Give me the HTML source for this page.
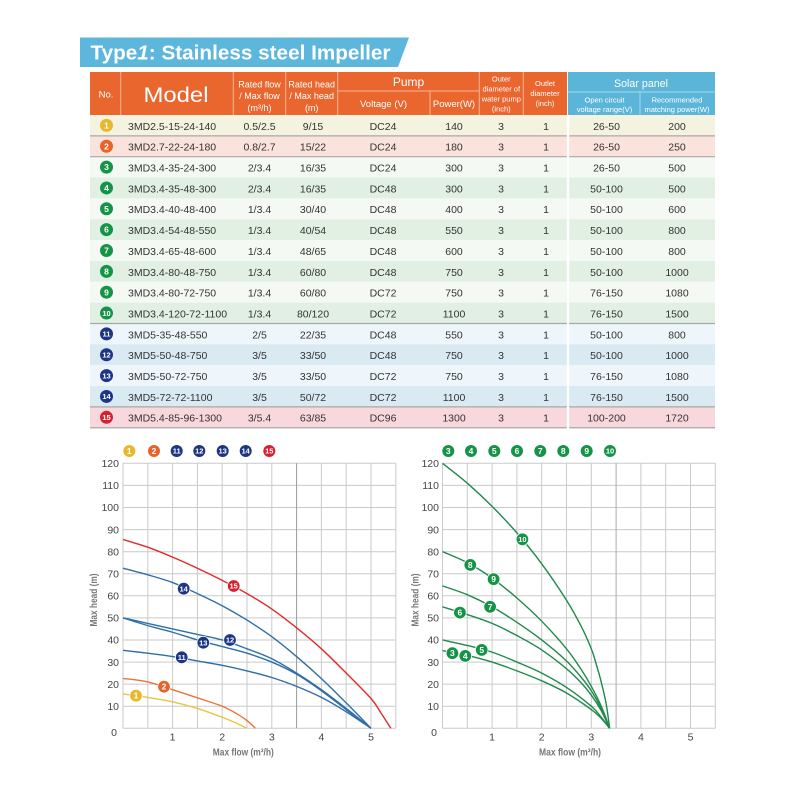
<!DOCTYPE html>
<html><head><meta charset="utf-8"><style>
html,body{margin:0;padding:0;background:#fff;}
svg{display:block;font-family:"Liberation Sans",Arial,sans-serif;}
.h{fill:#fff;text-anchor:middle;}
.d{fill:#333;font-size:10.5px;text-anchor:middle;}
.m{fill:#333;font-size:10.5px;}
.bt{fill:#fff;font-size:8.5px;font-weight:bold;text-anchor:middle;}
.bt2{fill:#fff;font-size:7.5px;font-weight:bold;text-anchor:middle;}
.yl{fill:#444;font-size:10.5px;text-anchor:end;}
.xl{fill:#444;font-size:10.5px;text-anchor:middle;}
.at{fill:#777;font-size:10px;font-weight:bold;text-anchor:middle;}
.g{stroke:#cacaca;stroke-width:1;}
.c{fill:none;stroke-width:1.4;vector-effect:non-scaling-stroke;stroke-linejoin:round;}
</style></head><body>
<svg width="800" height="800" viewBox="0 0 800 800" xmlns="http://www.w3.org/2000/svg">
<!-- Title -->
<polygon points="80,37.5 409,37.5 398,67 80,67" fill="#5db6dc"/>
<text x="90.5" y="59.5" font-size="20" font-weight="bold" fill="#fff" textLength="300" lengthAdjust="spacingAndGlyphs">Type<tspan font-style="italic">1</tspan>: Stainless steel Impeller</text>

<!-- Header -->
<rect x="90" y="72" width="477" height="43" fill="#e9662f"/>
<rect x="568" y="72" width="147" height="43" fill="#5bb5d9"/>
<g stroke="#f5b597" stroke-width="1">
<line x1="120.7" y1="72" x2="120.7" y2="115"/>
<line x1="233.3" y1="72" x2="233.3" y2="115"/>
<line x1="285.7" y1="72" x2="285.7" y2="115"/>
<line x1="337.7" y1="72" x2="337.7" y2="115"/>
<line x1="430" y1="91" x2="430" y2="115"/>
<line x1="479.3" y1="72" x2="479.3" y2="115"/>
<line x1="523.3" y1="72" x2="523.3" y2="115"/>
<line x1="337.7" y1="91" x2="479.3" y2="91"/>
</g>
<g stroke="#a9d8ec" stroke-width="1">
<line x1="568" y1="92" x2="715" y2="92"/>
<line x1="640" y1="92" x2="640" y2="115"/>
</g>
<text class="h" x="106" y="97.5" font-size="9.5">No.</text>
<text class="h" x="176" y="102" font-size="21" textLength="65" lengthAdjust="spacingAndGlyphs">Model</text>
<text class="h" x="259.5" y="87.5" font-size="9">Rated flow</text>
<text class="h" x="259.5" y="99" font-size="9">/ Max flow</text>
<text class="h" x="259.5" y="111" font-size="9">(m³/h)</text>
<text class="h" x="311.7" y="87.5" font-size="9">Rated head</text>
<text class="h" x="311.7" y="99" font-size="9">/ Max head</text>
<text class="h" x="311.7" y="111" font-size="9">(m)</text>
<text class="h" x="408.5" y="86" font-size="12">Pump</text>
<text class="h" x="383.5" y="107" font-size="9.5">Voltage (V)</text>
<text class="h" x="454" y="107" font-size="9.5">Power(W)</text>
<text class="h" x="501.3" y="81.5" font-size="7.5">Outer</text>
<text class="h" x="501.3" y="91.5" font-size="7.5">diameter of</text>
<text class="h" x="501.3" y="101.5" font-size="7.5">water pump</text>
<text class="h" x="501.3" y="111.5" font-size="7.5">(inch)</text>
<text class="h" x="545" y="86" font-size="7.5">Outlet</text>
<text class="h" x="545" y="96" font-size="7.5">diameter</text>
<text class="h" x="545" y="106" font-size="7.5">(inch)</text>
<text class="h" x="641" y="87" font-size="11" textLength="54" lengthAdjust="spacingAndGlyphs">Solar panel</text>
<text class="h" x="604.5" y="102.5" font-size="7.5">Open circuit</text>
<text class="h" x="604.5" y="112" font-size="7.5">voltage range(V)</text>
<text class="h" x="677" y="102.5" font-size="7.5">Recommended</text>
<text class="h" x="677" y="112" font-size="7.5">matching power(W)</text>

<!-- Row backgrounds -->
<g>
<rect x="90" y="115" width="625" height="20.9" fill="#f4f3df"/>
<rect x="90" y="135.85" width="625" height="20.9" fill="#fbe3dd"/>
<rect x="90" y="156.7" width="625" height="20.9" fill="#f4f9f4"/>
<rect x="90" y="177.55" width="625" height="20.9" fill="#e2f0e4"/>
<rect x="90" y="198.4" width="625" height="20.9" fill="#f4f9f4"/>
<rect x="90" y="219.25" width="625" height="20.9" fill="#e2f0e4"/>
<rect x="90" y="240.1" width="625" height="20.9" fill="#f4f9f4"/>
<rect x="90" y="260.95" width="625" height="20.9" fill="#e2f0e4"/>
<rect x="90" y="281.8" width="625" height="20.9" fill="#f4f9f4"/>
<rect x="90" y="302.65" width="625" height="20.9" fill="#e2f0e4"/>
<rect x="90" y="323.5" width="625" height="20.9" fill="#eef6fb"/>
<rect x="90" y="344.35" width="625" height="20.9" fill="#d9eaf3"/>
<rect x="90" y="365.2" width="625" height="20.9" fill="#eef6fb"/>
<rect x="90" y="386.05" width="625" height="20.9" fill="#d9eaf3"/>
<rect x="90" y="406.9" width="625" height="20.85" fill="#f8d8dc"/>
</g>
<rect x="566.8" y="115" width="2.4" height="313" fill="#fff"/>
<g stroke="#a8a8a8" stroke-width="1.2">
<line x1="90" y1="135.85" x2="566.8" y2="135.85"/><line x1="569.2" y1="135.85" x2="715" y2="135.85"/>
<line x1="90" y1="156.7" x2="566.8" y2="156.7"/><line x1="569.2" y1="156.7" x2="715" y2="156.7"/>
<line x1="90" y1="323.5" x2="566.8" y2="323.5"/><line x1="569.2" y1="323.5" x2="715" y2="323.5"/>
<line x1="90" y1="406.9" x2="566.8" y2="406.9"/><line x1="569.2" y1="406.9" x2="715" y2="406.9"/>
<line x1="90" y1="427.75" x2="566.8" y2="427.75"/><line x1="569.2" y1="427.75" x2="715" y2="427.75"/>
</g>

<!-- Badges -->
<g>
<circle cx="106.5" cy="125.4" r="6.5" fill="#e8b82a"/><text class="bt" x="106.5" y="128.5">1</text>
<circle cx="106.5" cy="146.25" r="6.5" fill="#e8622a"/><text class="bt" x="106.5" y="149.3">2</text>
<circle cx="106.5" cy="167.1" r="6.5" fill="#159447"/><text class="bt" x="106.5" y="170.2">3</text>
<circle cx="106.5" cy="187.95" r="6.5" fill="#159447"/><text class="bt" x="106.5" y="191">4</text>
<circle cx="106.5" cy="208.8" r="6.5" fill="#159447"/><text class="bt" x="106.5" y="211.9">5</text>
<circle cx="106.5" cy="229.65" r="6.5" fill="#159447"/><text class="bt" x="106.5" y="232.7">6</text>
<circle cx="106.5" cy="250.5" r="6.5" fill="#159447"/><text class="bt" x="106.5" y="253.6">7</text>
<circle cx="106.5" cy="271.35" r="6.5" fill="#159447"/><text class="bt" x="106.5" y="274.4">8</text>
<circle cx="106.5" cy="292.2" r="6.5" fill="#159447"/><text class="bt" x="106.5" y="295.3">9</text>
<circle cx="106.5" cy="313.05" r="6.5" fill="#159447"/><text class="bt2" x="106.5" y="315.8">10</text>
<circle cx="106.5" cy="333.9" r="6.5" fill="#1d3585"/><text class="bt2" x="106.5" y="336.6">11</text>
<circle cx="106.5" cy="354.75" r="6.5" fill="#1d3585"/><text class="bt2" x="106.5" y="357.5">12</text>
<circle cx="106.5" cy="375.6" r="6.5" fill="#1d3585"/><text class="bt2" x="106.5" y="378.3">13</text>
<circle cx="106.5" cy="396.45" r="6.5" fill="#1d3585"/><text class="bt2" x="106.5" y="399.2">14</text>
<circle cx="106.5" cy="417.3" r="6.5" fill="#d42030"/><text class="bt2" x="106.5" y="420">15</text>
</g>

<!-- Row text -->
<g>
<text class="m" x="128" y="129.8">3MD2.5-15-24-140</text><text class="d" x="259.5" y="129.8">0.5/2.5</text><text class="d" x="313" y="129.8">9/15</text><text class="d" x="383" y="129.8">DC24</text><text class="d" x="454" y="129.8">140</text><text class="d" x="501" y="129.8">3</text><text class="d" x="546" y="129.8">1</text><text class="d" x="606.5" y="129.8">26-50</text><text class="d" x="677" y="129.8">200</text>
<text class="m" x="128" y="150.65">3MD2.7-22-24-180</text><text class="d" x="259.5" y="150.65">0.8/2.7</text><text class="d" x="313" y="150.65">15/22</text><text class="d" x="383" y="150.65">DC24</text><text class="d" x="454" y="150.65">180</text><text class="d" x="501" y="150.65">3</text><text class="d" x="546" y="150.65">1</text><text class="d" x="606.5" y="150.65">26-50</text><text class="d" x="677" y="150.65">250</text>
<text class="m" x="128" y="171.5">3MD3.4-35-24-300</text><text class="d" x="259.5" y="171.5">2/3.4</text><text class="d" x="313" y="171.5">16/35</text><text class="d" x="383" y="171.5">DC24</text><text class="d" x="454" y="171.5">300</text><text class="d" x="501" y="171.5">3</text><text class="d" x="546" y="171.5">1</text><text class="d" x="606.5" y="171.5">26-50</text><text class="d" x="677" y="171.5">500</text>
<text class="m" x="128" y="192.35">3MD3.4-35-48-300</text><text class="d" x="259.5" y="192.35">2/3.4</text><text class="d" x="313" y="192.35">16/35</text><text class="d" x="383" y="192.35">DC48</text><text class="d" x="454" y="192.35">300</text><text class="d" x="501" y="192.35">3</text><text class="d" x="546" y="192.35">1</text><text class="d" x="606.5" y="192.35">50-100</text><text class="d" x="677" y="192.35">500</text>
<text class="m" x="128" y="213.2">3MD3.4-40-48-400</text><text class="d" x="259.5" y="213.2">1/3.4</text><text class="d" x="313" y="213.2">30/40</text><text class="d" x="383" y="213.2">DC48</text><text class="d" x="454" y="213.2">400</text><text class="d" x="501" y="213.2">3</text><text class="d" x="546" y="213.2">1</text><text class="d" x="606.5" y="213.2">50-100</text><text class="d" x="677" y="213.2">600</text>
<text class="m" x="128" y="234.05">3MD3.4-54-48-550</text><text class="d" x="259.5" y="234.05">1/3.4</text><text class="d" x="313" y="234.05">40/54</text><text class="d" x="383" y="234.05">DC48</text><text class="d" x="454" y="234.05">550</text><text class="d" x="501" y="234.05">3</text><text class="d" x="546" y="234.05">1</text><text class="d" x="606.5" y="234.05">50-100</text><text class="d" x="677" y="234.05">800</text>
<text class="m" x="128" y="254.9">3MD3.4-65-48-600</text><text class="d" x="259.5" y="254.9">1/3.4</text><text class="d" x="313" y="254.9">48/65</text><text class="d" x="383" y="254.9">DC48</text><text class="d" x="454" y="254.9">600</text><text class="d" x="501" y="254.9">3</text><text class="d" x="546" y="254.9">1</text><text class="d" x="606.5" y="254.9">50-100</text><text class="d" x="677" y="254.9">800</text>
<text class="m" x="128" y="275.75">3MD3.4-80-48-750</text><text class="d" x="259.5" y="275.75">1/3.4</text><text class="d" x="313" y="275.75">60/80</text><text class="d" x="383" y="275.75">DC48</text><text class="d" x="454" y="275.75">750</text><text class="d" x="501" y="275.75">3</text><text class="d" x="546" y="275.75">1</text><text class="d" x="606.5" y="275.75">50-100</text><text class="d" x="677" y="275.75">1000</text>
<text class="m" x="128" y="296.6">3MD3.4-80-72-750</text><text class="d" x="259.5" y="296.6">1/3.4</text><text class="d" x="313" y="296.6">60/80</text><text class="d" x="383" y="296.6">DC72</text><text class="d" x="454" y="296.6">750</text><text class="d" x="501" y="296.6">3</text><text class="d" x="546" y="296.6">1</text><text class="d" x="606.5" y="296.6">76-150</text><text class="d" x="677" y="296.6">1080</text>
<text class="m" x="128" y="317.45">3MD3.4-120-72-1100</text><text class="d" x="259.5" y="317.45">1/3.4</text><text class="d" x="313" y="317.45">80/120</text><text class="d" x="383" y="317.45">DC72</text><text class="d" x="454" y="317.45">1100</text><text class="d" x="501" y="317.45">3</text><text class="d" x="546" y="317.45">1</text><text class="d" x="606.5" y="317.45">76-150</text><text class="d" x="677" y="317.45">1500</text>
<text class="m" x="128" y="338.3">3MD5-35-48-550</text><text class="d" x="259.5" y="338.3">2/5</text><text class="d" x="313" y="338.3">22/35</text><text class="d" x="383" y="338.3">DC48</text><text class="d" x="454" y="338.3">550</text><text class="d" x="501" y="338.3">3</text><text class="d" x="546" y="338.3">1</text><text class="d" x="606.5" y="338.3">50-100</text><text class="d" x="677" y="338.3">800</text>
<text class="m" x="128" y="359.15">3MD5-50-48-750</text><text class="d" x="259.5" y="359.15">3/5</text><text class="d" x="313" y="359.15">33/50</text><text class="d" x="383" y="359.15">DC48</text><text class="d" x="454" y="359.15">750</text><text class="d" x="501" y="359.15">3</text><text class="d" x="546" y="359.15">1</text><text class="d" x="606.5" y="359.15">50-100</text><text class="d" x="677" y="359.15">1000</text>
<text class="m" x="128" y="380">3MD5-50-72-750</text><text class="d" x="259.5" y="380">3/5</text><text class="d" x="313" y="380">33/50</text><text class="d" x="383" y="380">DC72</text><text class="d" x="454" y="380">750</text><text class="d" x="501" y="380">3</text><text class="d" x="546" y="380">1</text><text class="d" x="606.5" y="380">76-150</text><text class="d" x="677" y="380">1080</text>
<text class="m" x="128" y="400.85">3MD5-72-72-1100</text><text class="d" x="259.5" y="400.85">3/5</text><text class="d" x="313" y="400.85">50/72</text><text class="d" x="383" y="400.85">DC72</text><text class="d" x="454" y="400.85">1100</text><text class="d" x="501" y="400.85">3</text><text class="d" x="546" y="400.85">1</text><text class="d" x="606.5" y="400.85">76-150</text><text class="d" x="677" y="400.85">1500</text>
<text class="m" x="128" y="421.7">3MD5.4-85-96-1300</text><text class="d" x="259.5" y="421.7">3/5.4</text><text class="d" x="313" y="421.7">63/85</text><text class="d" x="383" y="421.7">DC96</text><text class="d" x="454" y="421.7">1300</text><text class="d" x="501" y="421.7">3</text><text class="d" x="546" y="421.7">1</text><text class="d" x="606.5" y="421.7">100-200</text><text class="d" x="677" y="421.7">1720</text>
</g>

<!-- ============ LEFT CHART ============ -->
<g class="g">
<line x1="123" y1="463.3" x2="123" y2="728.3"/><line x1="147.8" y1="463.3" x2="147.8" y2="728.3"/><line x1="172.6" y1="463.3" x2="172.6" y2="728.3"/><line x1="197.4" y1="463.3" x2="197.4" y2="728.3"/><line x1="222.2" y1="463.3" x2="222.2" y2="728.3"/><line x1="247" y1="463.3" x2="247" y2="728.3"/><line x1="271.8" y1="463.3" x2="271.8" y2="728.3"/><line x1="321.4" y1="463.3" x2="321.4" y2="728.3"/><line x1="346.2" y1="463.3" x2="346.2" y2="728.3"/><line x1="371" y1="463.3" x2="371" y2="728.3"/><line x1="395.8" y1="463.3" x2="395.8" y2="728.3"/>
<line x1="123" y1="728.3" x2="395.8" y2="728.3"/><line x1="123" y1="706.2" x2="395.8" y2="706.2"/><line x1="123" y1="684.1" x2="395.8" y2="684.1"/><line x1="123" y1="662.1" x2="395.8" y2="662.1"/><line x1="123" y1="640" x2="395.8" y2="640"/><line x1="123" y1="617.9" x2="395.8" y2="617.9"/><line x1="123" y1="595.8" x2="395.8" y2="595.8"/><line x1="123" y1="573.7" x2="395.8" y2="573.7"/><line x1="123" y1="551.7" x2="395.8" y2="551.7"/><line x1="123" y1="529.6" x2="395.8" y2="529.6"/><line x1="123" y1="507.5" x2="395.8" y2="507.5"/><line x1="123" y1="485.4" x2="395.8" y2="485.4"/><line x1="123" y1="463.3" x2="395.8" y2="463.3"/>
</g>
<line x1="296.6" y1="463.3" x2="296.6" y2="728.3" stroke="#999" stroke-width="1"/>
<g>
<text class="yl" x="119" y="467">120</text><text class="yl" x="119" y="489.1">110</text><text class="yl" x="119" y="511.2">100</text><text class="yl" x="119" y="533.3">90</text><text class="yl" x="119" y="555.4">80</text><text class="yl" x="119" y="577.4">70</text><text class="yl" x="119" y="599.5">60</text><text class="yl" x="119" y="621.6">50</text><text class="yl" x="119" y="643.7">40</text><text class="yl" x="119" y="665.8">30</text><text class="yl" x="119" y="687.8">20</text><text class="yl" x="119" y="709.9">10</text><text class="yl" x="117" y="736">0</text>
<text class="xl" x="172.6" y="740.5">1</text><text class="xl" x="222.2" y="740.5">2</text><text class="xl" x="271.8" y="740.5">3</text><text class="xl" x="321.4" y="740.5">4</text><text class="xl" x="371" y="740.5">5</text>
</g>
<text class="at" x="243.3" y="755.5" textLength="61" lengthAdjust="spacingAndGlyphs">Max flow (m³/h)</text>
<text class="at" transform="translate(96.8,600) rotate(-90)" x="0" y="0" textLength="53" lengthAdjust="spacingAndGlyphs">Max head (m)</text>

<g transform="translate(123,728.3) scale(49.6,-2.2083)">
<polyline class="c" stroke="#e6c640" points="0,15.5 0.5,14 1,12 1.5,9 2,5 2.25,2.7 2.5,0"/>
<polyline class="c" stroke="#e8763a" points="0,22.6 0.5,21 1,17.5 1.5,13.8 2,10 2.3,6.5 2.5,3.5 2.67,0"/>
<polyline class="c" stroke="#2e6fa8" points="0,35.3 0.5,34 1,32.5 1.5,30.5 2,28.5 2.5,26 3,23 3.5,19 4,14 4.5,7.5 5,0"/>
<polyline class="c" stroke="#2e6fa8" points="0,50 0.5,47.5 1,45 1.5,42.5 2,40 2.5,36 3,31.5 3.5,25 4,17.5 4.5,9 5,0"/>
<polyline class="c" stroke="#2e6fa8" points="0,50 0.5,46.5 1,43.5 1.5,40 2,37 2.5,34 3,30 3.5,24.5 4,17 4.5,8.5 5,0"/>
<polyline class="c" stroke="#2e6fa8" points="0,72.5 0.5,69.5 1,66 1.5,61 2,55.5 2.5,49 3,41.5 3.5,32.5 4,22.5 4.5,11.5 5,0"/>
<polyline class="c" stroke="#e02a2a" points="0,85.5 0.5,82 1,77.5 1.5,72.5 2,67 2.5,61 3,54 3.5,45.5 4,36 4.5,25 5,13.5 5.2,7 5.4,0"/>
</g>
<g stroke="#fff" stroke-width="0.8">
<circle cx="136" cy="695.7" r="6.3" fill="#e8b82a"/>
<circle cx="164" cy="686.7" r="6.3" fill="#e8622a"/>
<circle cx="181.7" cy="657.3" r="6.3" fill="#1d3585"/>
<circle cx="230" cy="640" r="6.3" fill="#1d3585"/>
<circle cx="203.3" cy="642.7" r="6.3" fill="#1d3585"/>
<circle cx="183.7" cy="588.7" r="6.3" fill="#1d3585"/>
<circle cx="233.7" cy="586" r="6.3" fill="#d42030"/>
</g>
<text class="bt" x="136" y="698.7">1</text>
<text class="bt" x="164" y="689.7">2</text>
<text class="bt2" x="181.7" y="660">11</text>
<text class="bt2" x="230" y="642.7">12</text>
<text class="bt2" x="203.3" y="645.4">13</text>
<text class="bt2" x="183.7" y="591.4">14</text>
<text class="bt2" x="233.7" y="588.7">15</text>
<!-- left legend -->
<circle cx="129.3" cy="451" r="6" fill="#e8b82a"/><text class="bt" x="129.3" y="454">1</text>
<circle cx="154" cy="451" r="6" fill="#e8622a"/><text class="bt" x="154" y="454">2</text>
<circle cx="176.7" cy="451" r="6" fill="#1d3585"/><text class="bt2" x="176.7" y="453.7">11</text>
<circle cx="199.3" cy="451" r="6" fill="#1d3585"/><text class="bt2" x="199.3" y="453.7">12</text>
<circle cx="222.7" cy="451" r="6" fill="#1d3585"/><text class="bt2" x="222.7" y="453.7">13</text>
<circle cx="245.7" cy="451" r="6" fill="#1d3585"/><text class="bt2" x="245.7" y="453.7">14</text>
<circle cx="269.3" cy="451" r="6" fill="#d42030"/><text class="bt2" x="269.3" y="453.7">15</text>

<!-- ============ RIGHT CHART ============ -->
<g class="g">
<line x1="442.5" y1="463.3" x2="442.5" y2="728.3"/><line x1="467.3" y1="463.3" x2="467.3" y2="728.3"/><line x1="492.1" y1="463.3" x2="492.1" y2="728.3"/><line x1="516.9" y1="463.3" x2="516.9" y2="728.3"/><line x1="541.7" y1="463.3" x2="541.7" y2="728.3"/><line x1="566.5" y1="463.3" x2="566.5" y2="728.3"/><line x1="591.3" y1="463.3" x2="591.3" y2="728.3"/><line x1="640.9" y1="463.3" x2="640.9" y2="728.3"/><line x1="665.7" y1="463.3" x2="665.7" y2="728.3"/><line x1="690.5" y1="463.3" x2="690.5" y2="728.3"/><line x1="715.3" y1="463.3" x2="715.3" y2="728.3"/>
<line x1="442.5" y1="728.3" x2="715.3" y2="728.3"/><line x1="442.5" y1="706.2" x2="715.3" y2="706.2"/><line x1="442.5" y1="684.1" x2="715.3" y2="684.1"/><line x1="442.5" y1="662.1" x2="715.3" y2="662.1"/><line x1="442.5" y1="640" x2="715.3" y2="640"/><line x1="442.5" y1="617.9" x2="715.3" y2="617.9"/><line x1="442.5" y1="595.8" x2="715.3" y2="595.8"/><line x1="442.5" y1="573.7" x2="715.3" y2="573.7"/><line x1="442.5" y1="551.7" x2="715.3" y2="551.7"/><line x1="442.5" y1="529.6" x2="715.3" y2="529.6"/><line x1="442.5" y1="507.5" x2="715.3" y2="507.5"/><line x1="442.5" y1="485.4" x2="715.3" y2="485.4"/><line x1="442.5" y1="463.3" x2="715.3" y2="463.3"/>
</g>
<line x1="616.1" y1="463.3" x2="616.1" y2="728.3" stroke="#aaa" stroke-width="1"/>
<g>
<text class="yl" x="439" y="467">120</text><text class="yl" x="439" y="489.1">110</text><text class="yl" x="439" y="511.2">100</text><text class="yl" x="439" y="533.3">90</text><text class="yl" x="439" y="555.4">80</text><text class="yl" x="439" y="577.4">70</text><text class="yl" x="439" y="599.5">60</text><text class="yl" x="439" y="621.6">50</text><text class="yl" x="439" y="643.7">40</text><text class="yl" x="439" y="665.8">30</text><text class="yl" x="439" y="687.8">20</text><text class="yl" x="439" y="709.9">10</text><text class="yl" x="437" y="736">0</text>
<text class="xl" x="492.1" y="740.5">1</text><text class="xl" x="541.7" y="740.5">2</text><text class="xl" x="591.3" y="740.5">3</text><text class="xl" x="640.9" y="740.5">4</text><text class="xl" x="690.5" y="740.5">5</text>
</g>
<text class="at" x="570" y="755.5" textLength="62" lengthAdjust="spacingAndGlyphs">Max flow (m³/h)</text>
<text class="at" transform="translate(418.5,600) rotate(-90)" x="0" y="0" textLength="53" lengthAdjust="spacingAndGlyphs">Max head (m)</text>

<g transform="translate(442.5,728.3) scale(49.6,-2.2083)">
<polyline class="c" stroke="#1f8a4c" points="0,120 0.5,111 1,100.5 1.5,88.5 2,74.5 2.5,58 2.8,46 3,36 3.1,29 3.2,21 3.3,11 3.37,0"/>
<polyline class="c" stroke="#1f8a4c" points="0,80 0.5,75 1,68 1.5,59 2,48.5 2.5,36 2.8,26.5 3,19 3.2,10 3.37,0"/>
<polyline class="c" stroke="#1f8a4c" points="0,64.5 0.5,60.5 1,55 1.5,48 2,40 2.5,30.5 2.8,23 3,17 3.2,9 3.37,0"/>
<polyline class="c" stroke="#1f8a4c" points="0,55 0.5,51.5 1,47.5 1.5,42 2,35.5 2.5,27 2.8,20.5 3,15 3.2,8 3.37,0"/>
<polyline class="c" stroke="#1f8a4c" points="0,40 0.5,37.5 1,34.5 1.5,30 2,25 2.5,18.5 3,10 3.2,5 3.37,0"/>
<polyline class="c" stroke="#1f8a4c" points="0,35.2 0.5,33 1,30 1.5,26 2,21.5 2.5,16 3,8.5 3.2,4.5 3.37,0"/>
</g>
<g stroke="#fff" stroke-width="0.8" fill="#159447">
<circle cx="522.4" cy="539.3" r="6.3"/>
<circle cx="470.3" cy="564.9" r="6.3"/>
<circle cx="493.6" cy="579.2" r="6.3"/>
<circle cx="490.1" cy="606.8" r="6.3"/>
<circle cx="459.9" cy="612.6" r="6.3"/>
<circle cx="481.7" cy="649.9" r="6.3"/>
<circle cx="452.4" cy="653.2" r="6.3"/>
<circle cx="465.3" cy="655.9" r="6.3"/>
</g>
<text class="bt2" x="522.4" y="542">10</text>
<text class="bt" x="470.3" y="567.9">8</text>
<text class="bt" x="493.6" y="582.2">9</text>
<text class="bt" x="490.1" y="609.8">7</text>
<text class="bt" x="459.9" y="615.6">6</text>
<text class="bt" x="481.7" y="652.9">5</text>
<text class="bt" x="452.4" y="656.2">3</text>
<text class="bt" x="465.3" y="658.9">4</text>
<!-- right legend -->
<g fill="#159447">
<circle cx="448.3" cy="451" r="6"/><circle cx="471" cy="451" r="6"/><circle cx="494.3" cy="451" r="6"/><circle cx="517" cy="451" r="6"/><circle cx="540.3" cy="451" r="6"/><circle cx="563.3" cy="451" r="6"/><circle cx="586.7" cy="451" r="6"/><circle cx="610" cy="451" r="6"/>
</g>
<text class="bt" x="448.3" y="454">3</text><text class="bt" x="471" y="454">4</text><text class="bt" x="494.3" y="454">5</text><text class="bt" x="517" y="454">6</text><text class="bt" x="540.3" y="454">7</text><text class="bt" x="563.3" y="454">8</text><text class="bt" x="586.7" y="454">9</text><text class="bt2" x="610" y="453.7">10</text>
</svg>
<script>
(function(){
  try{
    var NS="http://www.w3.org/2000/svg";
    var pls=document.querySelectorAll("polyline.c");
    for(var k=0;k<pls.length;k++){
      var pl=pls[k];
      var raw=pl.getAttribute("points").trim().split(/\s+/);
      var P=raw.map(function(s){var a=s.split(",");return [parseFloat(a[0]),parseFloat(a[1])];});
      if(P.length<3) continue;
      var d="M"+P[0][0]+","+P[0][1];
      for(var i=0;i<P.length-1;i++){
        var p0=P[i>0?i-1:i],p1=P[i],p2=P[i+1],p3=P[i+2<P.length?i+2:i+1];
        var c1x=p1[0]+(p2[0]-p0[0])/6,c1y=p1[1]+(p2[1]-p0[1])/6;
        var c2x=p2[0]-(p3[0]-p1[0])/6,c2y=p2[1]-(p3[1]-p1[1])/6;
        d+=" C"+c1x.toFixed(4)+","+c1y.toFixed(4)+" "+c2x.toFixed(4)+","+c2y.toFixed(4)+" "+p2[0]+","+p2[1];
      }
      var path=document.createElementNS(NS,"path");
      path.setAttribute("d",d);
      path.setAttribute("class","c");
      path.setAttribute("stroke",pl.getAttribute("stroke"));
      pl.parentNode.replaceChild(path,pl);
    }
  }catch(e){}
})();
</script>
</body></html>
